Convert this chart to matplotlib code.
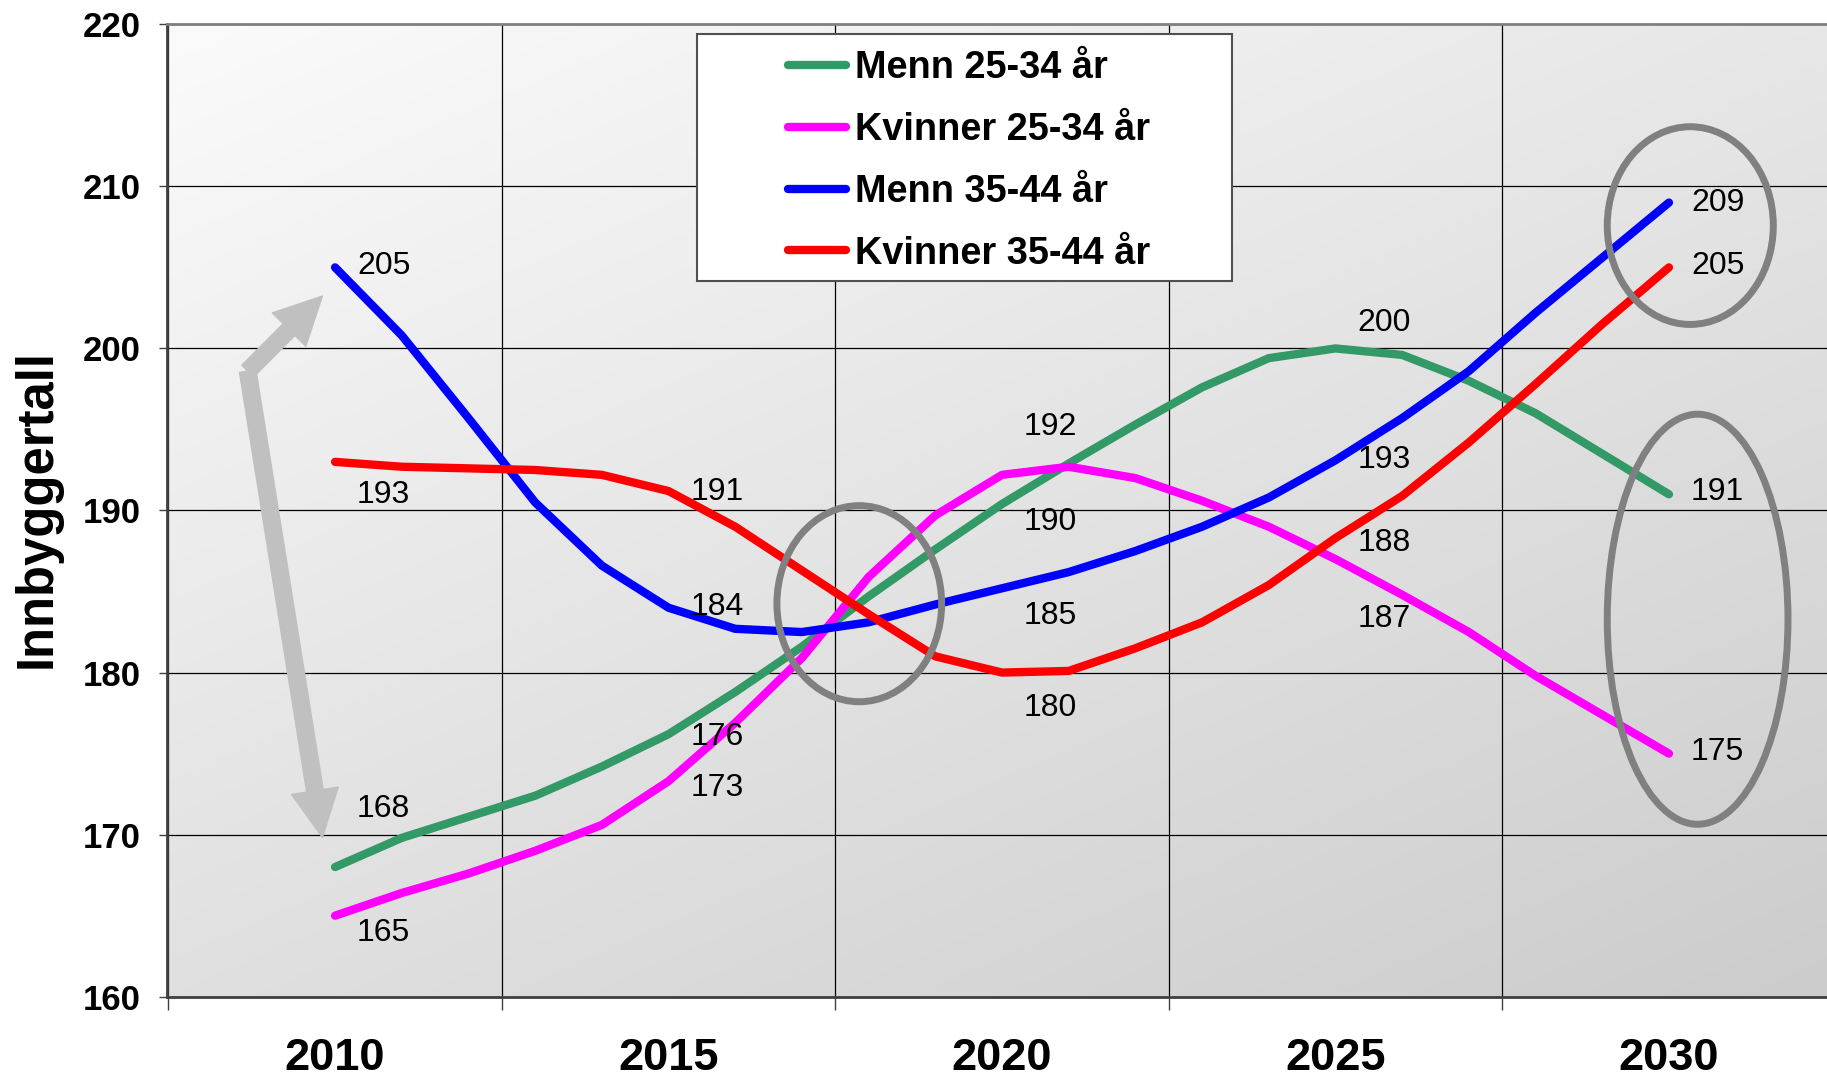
import numpy as np
import matplotlib.pyplot as plt
from matplotlib.patches import Ellipse, Rectangle, FancyArrowPatch

plt.rcParams['font.family'] = ['Liberation Sans', 'DejaVu Sans']

# Befolkningsframskriving, årsverdier
years = list(range(2010, 2031))
menn_25_34 = [168.0, 169.8, 171.1, 172.4, 174.2, 176.2, 178.8, 181.6, 184.7, 187.6, 190.4,
              192.9, 195.3, 197.6, 199.4, 200.0, 199.6, 198.0, 196.0, 193.5, 191.0]
kvinner_25_34 = [165.0, 166.4, 167.6, 169.0, 170.6, 173.3, 176.9, 180.9, 185.9, 189.7, 192.2,
                 192.7, 192.0, 190.6, 189.0, 187.0, 184.8, 182.5, 179.8, 177.4, 175.0]
menn_35_44 = [205.0, 200.8, 195.7, 190.5, 186.6, 184.0, 182.7, 182.5, 183.1, 184.2, 185.2,
              186.2, 187.5, 189.0, 190.8, 193.1, 195.7, 198.6, 202.2, 205.6, 209.0]
kvinner_35_44 = [193.0, 192.7, 192.6, 192.5, 192.2, 191.2, 189.0, 186.3, 183.6, 181.0, 180.0,
                 180.1, 181.5, 183.1, 185.4, 188.3, 190.9, 194.2, 197.8, 201.5, 205.0]

series_names = ["Menn 25-34 år", "Kvinner 25-34 år", "Menn 35-44 år", "Kvinner 35-44 år"]
series_values = [menn_25_34, kvinner_25_34, menn_35_44, kvinner_35_44]
colors = ["#339966", "#ff00ff", "#0000ff", "#ff0000"]

label_years = [2010, 2015, 2020, 2025, 2030]
# vertikal forskyvning av dataetikettene (i verdienheter), per serie
label_dy = [
    [3.6, -0.17, -1.1, 1.54, 0.15],
    [-1.05, -0.4, 2.96, -3.7, 0.1],
    [0.08, 0.05, -1.7, 0.0, 0.0],
    [-2.05, -0.05, -2.2, -0.3, 0.08],
]

W, H = 1827, 1081
fig = plt.figure(figsize=(W / 100, H / 100), dpi=100)
ax = fig.add_axes([167 / W, 1 - 996.7 / H, 1 - 167 / W, (996.7 - 24.3) / H])

x0, x1 = 2007.48, 2032.37
y0, y1 = 160, 220

# bakgrunn med gradient (lys oppe til venstre, mørkere nede til høyre)
u = np.linspace(0, 1, 400)[None, :]
v = np.linspace(0, 1, 300)[:, None]
g = (251 - 20 * u - 27 * v) / 255
ax.imshow(np.dstack([g, g, g]), extent=[x0, x1, y0, y1], aspect='auto', origin='upper', zorder=0)

lines = []
for name, vals, c in zip(series_names, series_values, colors):
    ln, = ax.plot(years, vals, color=c, lw=6, solid_capstyle='round', solid_joinstyle='round',
                  label=name, zorder=3)
    lines.append(ln)

# dataetiketter
for vals, dys in zip(series_values, label_dy):
    for yr, dy in zip(label_years, dys):
        val = vals[years.index(yr)]
        ax.text(yr + 0.33, val + dy, f"{round(val)}", fontsize=23, ha='left', va='center', zorder=5)

# grå ellipser
ell_style = dict(fill=False, ec='#808080', lw=5, zorder=4)
ax.add_patch(Ellipse((2030.32, 207.58), 2.49, 12.2, **ell_style))
ax.add_patch(Ellipse((2030.43, 183.29), 2.71, 25.3, **ell_style))
ax.add_patch(Ellipse((2017.86, 184.25), 2.47, 12.1, **ell_style))

# grå piler
arrow_style = 'simple,head_length=0.85,head_width=0.85,tail_width=0.3'
for tip in [(2009.81, 203.23), (2009.81, 169.83)]:
    ax.add_patch(FancyArrowPatch(posA=(2008.69, 198.6), posB=tip, arrowstyle=arrow_style,
                                 mutation_scale=40, color='#c0c0c0', shrinkA=0, shrinkB=0, zorder=2))

ax.set_xlim(x0, x1)
ax.set_ylim(y0, y1)

# akser
ax.set_xticks([2007.5, 2012.5, 2017.5, 2022.5, 2027.5])
ax.set_xticklabels([])
ax.set_xticks(label_years, minor=True)
ax.set_xticklabels([str(y) for y in label_years], minor=True, fontsize=32.5, fontweight='bold')
ax.tick_params(axis='x', which='major', length=9.6, width=1, direction='out', color='#404040')
ax.tick_params(axis='x', which='minor', length=0, pad=30)

ax.set_yticks(range(160, 221, 10))
ax.set_yticklabels([str(t) for t in range(160, 221, 10)], fontsize=25, fontweight='bold')
ax.tick_params(axis='y', length=6, width=1, direction='out', pad=13, color='#404040')

ax.grid(True, which='major', color='black', lw=0.9)
ax.set_axisbelow(True)

for side in ['left', 'bottom']:
    ax.spines[side].set_color('#404040')
    ax.spines[side].set_linewidth(2)
ax.spines['top'].set_color('#808080')
ax.spines['top'].set_linewidth(2)
ax.spines['right'].set_visible(False)

fig.text(37 / W, 1 - 508 / H, "Innbyggertall", rotation=90, ha='center', va='center',
         fontsize=36.5, fontweight='bold')

# legende med egen ramme
ax.add_patch(Rectangle((697 / W, 1 - 281 / H), (1232 - 697) / W, (281 - 34) / H,
                       transform=fig.transFigure, fc='white', ec='#505050', lw=1.5,
                       zorder=6, clip_on=False))
leg = ax.legend(handles=lines, loc='center left', bbox_to_anchor=(769 / W, 1 - 161 / H),
                bbox_transform=fig.transFigure, frameon=False, borderpad=0,
                handlelength=1.53, handletextpad=0.25, labelspacing=0.68,
                prop={'size': 27.3, 'weight': 'bold'})
leg.set_zorder(7)

fig.savefig("out.png", dpi=100)
